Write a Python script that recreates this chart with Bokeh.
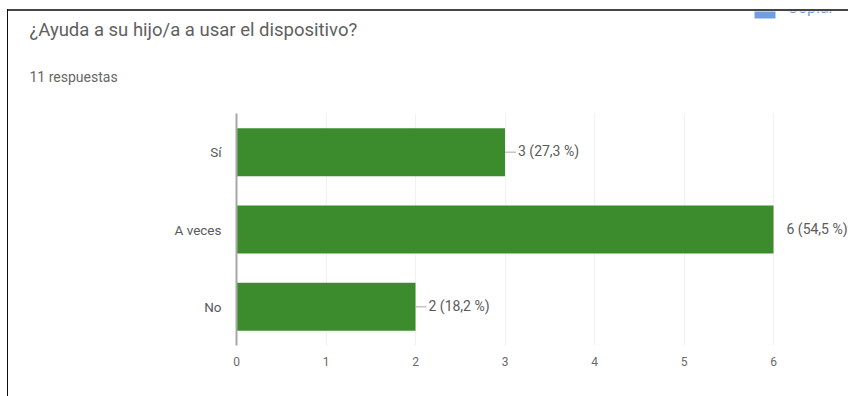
from bokeh.embed import file_html
from bokeh.layouts import column
from bokeh.models import ColumnDataSource, FixedTicker
from bokeh.plotting import figure
from bokeh.resources import INLINE
from bokeh.core.properties import value

categories = ["Sí", "A veces", "No"]
counts = [3, 6, 2]
value_labels = ["3 (27,3 %)", "6 (54,5 %)", "2 (18,2 %)"]
x_ticks = [0, 1, 2, 3, 4, 5, 6]
title_text = "¿Ayuda a su hijo/a a usar el dispositivo?"
subtitle_text = "11 respuestas"
copy_text = "Copiar"

WIDTH, HEIGHT = 848, 396
PAGE_LEFT, PAGE_TOP = 8, 11
FONT = "Roboto"
LEFT, RIGHT_TICK, TOP, BOTTOM = 236, 773, 113, 345
unit = (RIGHT_TICK - LEFT) / max(x_ticks)
leader = 11 / unit

# Header strip: its ranges run in page pixels, so texts sit at page positions
head = figure(
    width=WIDTH - PAGE_LEFT, height=TOP - PAGE_TOP,
    x_range=(PAGE_LEFT, WIDTH), y_range=(TOP, PAGE_TOP),
    output_backend="svg", toolbar_location=None,
    min_border=0, outline_line_color=None, background_fill_color="white",
    frame_align=False,
)
head.axis.visible = False
head.grid.visible = False

head.text(x=[29], y=[29], text=[title_text], text_baseline="middle",
          text_font=value(FONT), text_font_size="18.5px", text_color="#5f5f5f")
head.text(x=[29], y=[76], text=[subtitle_text], text_baseline="middle",
          text_font=value(FONT), text_font_size="14px", text_color="#666666")

# Copy button, cut off by the top of the page frame
head.quad(left=[754], right=[775], top=[PAGE_TOP - 2], bottom=[18],
          fill_color="#6f9fe0", line_color=None)
head.text(x=[787], y=[13], y_offset=-6, text=[copy_text], text_baseline="alphabetic",
          text_font=value(FONT), text_font_size="16px", text_color="#6f9fe0")

# Chart body
src = ColumnDataSource(dict(
    cat=categories,
    n=counts,
    lead=[c + leader for c in counts],
    label=value_labels,
))

# The longest bar's label stands free, without a leader line
leader_src = ColumnDataSource(dict(
    cat=[c for c, n in zip(categories, counts) if n < max(counts)],
    n=[n for n in counts if n < max(counts)],
    lead=[n + leader for n in counts if n < max(counts)],
))

p = figure(
    width=WIDTH - PAGE_LEFT, height=HEIGHT - TOP,
    y_range=list(reversed(categories)),
    x_range=(0, (WIDTH - LEFT) / unit),
    output_backend="svg", toolbar_location=None,
    min_border_left=LEFT - PAGE_LEFT, min_border_right=0,
    min_border_top=0, min_border_bottom=HEIGHT - BOTTOM,
    outline_line_color=None, background_fill_color="white",
    frame_align=False,
)

p.xaxis.ticker = FixedTicker(ticks=x_ticks)
p.xaxis.axis_line_color = None
p.xaxis.major_tick_line_color = None
p.xaxis.minor_tick_line_color = None
p.xaxis.major_label_text_font = FONT
p.xaxis.major_label_text_font_size = "12px"
p.xaxis.major_label_text_color = "#6a6a6a"
p.xaxis.major_label_standoff = 5

p.yaxis.axis_line_color = "#a6a6a6"
p.yaxis.axis_line_width = 2
p.yaxis.major_tick_line_color = None
p.yaxis.minor_tick_line_color = None
p.yaxis.major_label_text_font = FONT
p.yaxis.major_label_text_font_size = "13.5px"
p.yaxis.major_label_text_color = "#5a5a5a"
p.yaxis.major_label_standoff = 9

p.xgrid.grid_line_color = "#f1f1f1"
p.ygrid.grid_line_color = None

p.hbar(y="cat", left=0, right="n", height=0.62, source=src,
       fill_color="#3c8c2e", line_color=None)
p.segment(x0="n", x1="lead", y0="cat", y1="cat", source=leader_src,
          line_color="#a8a8a8", line_width=1)
p.text(x="lead", y="cat", text="label", source=src, x_offset=2, y_offset=-1,
       text_baseline="middle", text_align="left",
       text_font=value(FONT), text_font_size="14px", text_color="#5a5a5a")

# Page frame: dark rule along the top and left of the sheet
page = column(
    head, p,
    margin=(PAGE_TOP, 0, 0, PAGE_LEFT),
    spacing=0,
    styles={"box-shadow": "-1px 0 0 #111111, 0 -2px 0 #444444, -1px -2px 0 #111111"},
)

open("out.html", "w").write(file_html(page, INLINE))
